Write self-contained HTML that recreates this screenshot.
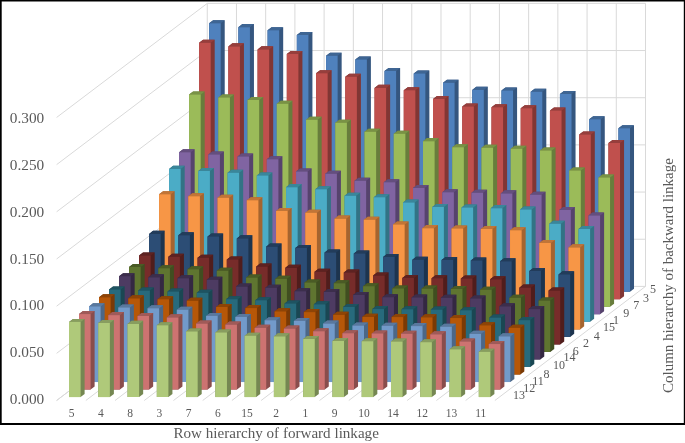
<!DOCTYPE html>
<html><head><meta charset="utf-8"><style>
html,body{margin:0;padding:0;background:#fff;width:685px;height:443px;overflow:hidden;}
svg{display:block;will-change:transform;}
</style></head><body><svg width="685" height="443" viewBox="0 0 685 443"><g stroke="#d9d9d9" stroke-width="1" fill="none"><line x1="56.60" y1="400.50" x2="207.25" y2="286.40"/><line x1="207.25" y1="286.40" x2="645.50" y2="286.40"/><line x1="56.60" y1="353.33" x2="207.25" y2="239.23"/><line x1="207.25" y1="239.23" x2="645.50" y2="239.23"/><line x1="56.60" y1="306.16" x2="207.25" y2="192.06"/><line x1="207.25" y1="192.06" x2="645.50" y2="192.06"/><line x1="56.60" y1="258.99" x2="207.25" y2="144.89"/><line x1="207.25" y1="144.89" x2="645.50" y2="144.89"/><line x1="56.60" y1="211.82" x2="207.25" y2="97.72"/><line x1="207.25" y1="97.72" x2="645.50" y2="97.72"/><line x1="56.60" y1="164.65" x2="207.25" y2="50.55"/><line x1="207.25" y1="50.55" x2="645.50" y2="50.55"/><line x1="56.60" y1="117.48" x2="207.25" y2="3.38"/><line x1="207.25" y1="3.38" x2="645.50" y2="3.38"/><line x1="56.60" y1="400.50" x2="207.25" y2="286.40"/><line x1="207.25" y1="286.40" x2="207.25" y2="3.38"/><line x1="85.82" y1="400.50" x2="236.47" y2="286.40"/><line x1="236.47" y1="286.40" x2="236.47" y2="3.38"/><line x1="115.03" y1="400.50" x2="265.68" y2="286.40"/><line x1="265.68" y1="286.40" x2="265.68" y2="3.38"/><line x1="144.25" y1="400.50" x2="294.90" y2="286.40"/><line x1="294.90" y1="286.40" x2="294.90" y2="3.38"/><line x1="173.47" y1="400.50" x2="324.12" y2="286.40"/><line x1="324.12" y1="286.40" x2="324.12" y2="3.38"/><line x1="202.68" y1="400.50" x2="353.33" y2="286.40"/><line x1="353.33" y1="286.40" x2="353.33" y2="3.38"/><line x1="231.90" y1="400.50" x2="382.55" y2="286.40"/><line x1="382.55" y1="286.40" x2="382.55" y2="3.38"/><line x1="261.12" y1="400.50" x2="411.77" y2="286.40"/><line x1="411.77" y1="286.40" x2="411.77" y2="3.38"/><line x1="290.34" y1="400.50" x2="440.99" y2="286.40"/><line x1="440.99" y1="286.40" x2="440.99" y2="3.38"/><line x1="319.55" y1="400.50" x2="470.20" y2="286.40"/><line x1="470.20" y1="286.40" x2="470.20" y2="3.38"/><line x1="348.77" y1="400.50" x2="499.42" y2="286.40"/><line x1="499.42" y1="286.40" x2="499.42" y2="3.38"/><line x1="377.99" y1="400.50" x2="528.64" y2="286.40"/><line x1="528.64" y1="286.40" x2="528.64" y2="3.38"/><line x1="407.20" y1="400.50" x2="557.85" y2="286.40"/><line x1="557.85" y1="286.40" x2="557.85" y2="3.38"/><line x1="436.42" y1="400.50" x2="587.07" y2="286.40"/><line x1="587.07" y1="286.40" x2="587.07" y2="3.38"/><line x1="465.64" y1="400.50" x2="616.29" y2="286.40"/><line x1="616.29" y1="286.40" x2="616.29" y2="3.38"/><line x1="494.86" y1="400.50" x2="645.50" y2="286.40"/><line x1="645.50" y1="286.40" x2="645.50" y2="3.38"/></g><g shape-rendering="auto"><polygon fill="#35567f" points="209.10,291.74 220.70,291.74 224.72,288.70 224.72,20.26 213.12,20.26 209.10,23.30"/><polygon fill="#3e6593" points="209.10,23.30 220.70,23.30 224.72,20.26 213.12,20.26"/><polygon fill="#4F81BD" points="209.10,291.74 220.70,291.74 220.70,23.30 209.10,23.30"/><polygon fill="#35567f" points="238.33,291.74 249.93,291.74 253.95,288.70 253.95,24.08 242.35,24.08 238.33,27.13"/><polygon fill="#3e6593" points="238.33,27.13 249.93,27.13 253.95,24.08 242.35,24.08"/><polygon fill="#4F81BD" points="238.33,291.74 249.93,291.74 249.93,27.13 238.33,27.13"/><polygon fill="#35567f" points="267.57,291.74 279.17,291.74 283.19,288.70 283.19,27.22 271.59,27.22 267.57,30.26"/><polygon fill="#3e6593" points="267.57,30.26 279.17,30.26 283.19,27.22 271.59,27.22"/><polygon fill="#4F81BD" points="267.57,291.74 279.17,291.74 279.17,30.26 267.57,30.26"/><polygon fill="#35567f" points="296.81,291.74 308.41,291.74 312.42,288.70 312.42,32.04 300.82,32.04 296.81,35.08"/><polygon fill="#3e6593" points="296.81,35.08 308.41,35.08 312.42,32.04 300.82,32.04"/><polygon fill="#4F81BD" points="296.81,291.74 308.41,291.74 308.41,35.08 296.81,35.08"/><polygon fill="#35567f" points="326.04,291.74 337.64,291.74 341.66,288.70 341.66,52.75 330.06,52.75 326.04,55.79"/><polygon fill="#3e6593" points="326.04,55.79 337.64,55.79 341.66,52.75 330.06,52.75"/><polygon fill="#4F81BD" points="326.04,291.74 337.64,291.74 337.64,55.79 326.04,55.79"/><polygon fill="#35567f" points="355.28,291.74 366.88,291.74 370.90,288.70 370.90,56.39 359.30,56.39 355.28,59.43"/><polygon fill="#3e6593" points="355.28,59.43 366.88,59.43 370.90,56.39 359.30,56.39"/><polygon fill="#4F81BD" points="355.28,291.74 366.88,291.74 366.88,59.43 355.28,59.43"/><polygon fill="#35567f" points="384.51,291.74 396.11,291.74 400.13,288.70 400.13,68.01 388.53,68.01 384.51,71.05"/><polygon fill="#3e6593" points="384.51,71.05 396.11,71.05 400.13,68.01 388.53,68.01"/><polygon fill="#4F81BD" points="384.51,291.74 396.11,291.74 396.11,71.05 384.51,71.05"/><polygon fill="#35567f" points="413.75,291.74 425.35,291.74 429.37,288.70 429.37,70.44 417.77,70.44 413.75,73.49"/><polygon fill="#3e6593" points="413.75,73.49 425.35,73.49 429.37,70.44 417.77,70.44"/><polygon fill="#4F81BD" points="413.75,291.74 425.35,291.74 425.35,73.49 413.75,73.49"/><polygon fill="#35567f" points="442.99,291.74 454.59,291.74 458.60,288.70 458.60,79.76 447.00,79.76 442.99,82.80"/><polygon fill="#3e6593" points="442.99,82.80 454.59,82.80 458.60,79.76 447.00,79.76"/><polygon fill="#4F81BD" points="442.99,291.74 454.59,291.74 454.59,82.80 442.99,82.80"/><polygon fill="#35567f" points="472.22,291.74 483.82,291.74 487.84,288.70 487.84,86.85 476.24,86.85 472.22,89.90"/><polygon fill="#3e6593" points="472.22,89.90 483.82,89.90 487.84,86.85 476.24,86.85"/><polygon fill="#4F81BD" points="472.22,291.74 483.82,291.74 483.82,89.90 472.22,89.90"/><polygon fill="#35567f" points="501.46,291.74 513.06,291.74 517.08,288.70 517.08,87.58 505.48,87.58 501.46,90.62"/><polygon fill="#3e6593" points="501.46,90.62 513.06,90.62 517.08,87.58 505.48,87.58"/><polygon fill="#4F81BD" points="501.46,291.74 513.06,291.74 513.06,90.62 501.46,90.62"/><polygon fill="#35567f" points="530.69,291.74 542.29,291.74 546.31,288.70 546.31,88.70 534.71,88.70 530.69,91.74"/><polygon fill="#3e6593" points="530.69,91.74 542.29,91.74 546.31,88.70 534.71,88.70"/><polygon fill="#4F81BD" points="530.69,291.74 542.29,291.74 542.29,91.74 530.69,91.74"/><polygon fill="#35567f" points="559.93,291.74 571.53,291.74 575.55,288.70 575.55,90.98 563.95,90.98 559.93,94.02"/><polygon fill="#3e6593" points="559.93,94.02 571.53,94.02 575.55,90.98 563.95,90.98"/><polygon fill="#4F81BD" points="559.93,291.74 571.53,291.74 571.53,94.02 559.93,94.02"/><polygon fill="#35567f" points="589.17,291.74 600.77,291.74 604.78,288.70 604.78,116.25 593.18,116.25 589.17,119.29"/><polygon fill="#3e6593" points="589.17,119.29 600.77,119.29 604.78,116.25 593.18,116.25"/><polygon fill="#4F81BD" points="589.17,291.74 600.77,291.74 600.77,119.29 589.17,119.29"/><polygon fill="#35567f" points="618.40,291.74 630.00,291.74 634.02,288.70 634.02,125.14 622.42,125.14 618.40,128.18"/><polygon fill="#3e6593" points="618.40,128.18 630.00,128.18 634.02,125.14 622.42,125.14"/><polygon fill="#4F81BD" points="618.40,291.74 630.00,291.74 630.00,128.18 618.40,128.18"/><polygon fill="#813634" points="199.09,299.27 210.69,299.27 214.71,296.23 214.71,39.69 203.11,39.69 199.09,42.73"/><polygon fill="#963e3c" points="199.09,42.73 210.69,42.73 214.71,39.69 203.11,39.69"/><polygon fill="#C0504D" points="199.09,299.27 210.69,299.27 210.69,42.73 199.09,42.73"/><polygon fill="#813634" points="228.33,299.27 239.93,299.27 243.95,296.23 243.95,43.35 232.35,43.35 228.33,46.39"/><polygon fill="#963e3c" points="228.33,46.39 239.93,46.39 243.95,43.35 232.35,43.35"/><polygon fill="#C0504D" points="228.33,299.27 239.93,299.27 239.93,46.39 228.33,46.39"/><polygon fill="#813634" points="257.57,299.27 269.17,299.27 273.19,296.23 273.19,46.34 261.59,46.34 257.57,49.38"/><polygon fill="#963e3c" points="257.57,49.38 269.17,49.38 273.19,46.34 261.59,46.34"/><polygon fill="#C0504D" points="257.57,299.27 269.17,299.27 269.17,49.38 257.57,49.38"/><polygon fill="#813634" points="286.81,299.27 298.41,299.27 302.42,296.23 302.42,50.94 290.82,50.94 286.81,53.99"/><polygon fill="#963e3c" points="286.81,53.99 298.41,53.99 302.42,50.94 290.82,50.94"/><polygon fill="#C0504D" points="286.81,299.27 298.41,299.27 298.41,53.99 286.81,53.99"/><polygon fill="#813634" points="316.05,299.27 327.65,299.27 331.66,296.23 331.66,70.26 320.06,70.26 316.05,73.31"/><polygon fill="#963e3c" points="316.05,73.31 327.65,73.31 331.66,70.26 320.06,70.26"/><polygon fill="#C0504D" points="316.05,299.27 327.65,299.27 327.65,73.31 316.05,73.31"/><polygon fill="#813634" points="345.28,299.27 356.88,299.27 360.90,296.23 360.90,73.74 349.30,73.74 345.28,76.79"/><polygon fill="#963e3c" points="345.28,76.79 356.88,76.79 360.90,73.74 349.30,73.74"/><polygon fill="#C0504D" points="345.28,299.27 356.88,299.27 356.88,76.79 345.28,76.79"/><polygon fill="#813634" points="374.52,299.27 386.12,299.27 390.14,296.23 390.14,84.85 378.54,84.85 374.52,87.89"/><polygon fill="#963e3c" points="374.52,87.89 386.12,87.89 390.14,84.85 378.54,84.85"/><polygon fill="#C0504D" points="374.52,299.27 386.12,299.27 386.12,87.89 374.52,87.89"/><polygon fill="#813634" points="403.76,299.27 415.36,299.27 419.38,296.23 419.38,87.18 407.78,87.18 403.76,90.22"/><polygon fill="#963e3c" points="403.76,90.22 415.36,90.22 419.38,87.18 407.78,87.18"/><polygon fill="#C0504D" points="403.76,299.27 415.36,299.27 415.36,90.22 403.76,90.22"/><polygon fill="#813634" points="433.00,299.27 444.60,299.27 448.62,296.23 448.62,96.08 437.02,96.08 433.00,99.12"/><polygon fill="#963e3c" points="433.00,99.12 444.60,99.12 448.62,96.08 437.02,96.08"/><polygon fill="#C0504D" points="433.00,299.27 444.60,299.27 444.60,99.12 433.00,99.12"/><polygon fill="#813634" points="462.24,299.27 473.84,299.27 477.85,296.23 477.85,103.46 466.25,103.46 462.24,106.50"/><polygon fill="#963e3c" points="462.24,106.50 473.84,106.50 477.85,103.46 466.25,103.46"/><polygon fill="#C0504D" points="462.24,299.27 473.84,299.27 473.84,106.50 462.24,106.50"/><polygon fill="#813634" points="491.48,299.27 503.08,299.27 507.09,296.23 507.09,104.15 495.49,104.15 491.48,107.19"/><polygon fill="#963e3c" points="491.48,107.19 503.08,107.19 507.09,104.15 495.49,104.15"/><polygon fill="#C0504D" points="491.48,299.27 503.08,299.27 503.08,107.19 491.48,107.19"/><polygon fill="#813634" points="520.71,299.27 532.31,299.27 536.33,296.23 536.33,105.23 524.73,105.23 520.71,108.27"/><polygon fill="#963e3c" points="520.71,108.27 532.31,108.27 536.33,105.23 524.73,105.23"/><polygon fill="#C0504D" points="520.71,299.27 532.31,299.27 532.31,108.27 520.71,108.27"/><polygon fill="#813634" points="549.95,299.27 561.55,299.27 565.57,296.23 565.57,107.40 553.97,107.40 549.95,110.44"/><polygon fill="#963e3c" points="549.95,110.44 561.55,110.44 565.57,107.40 553.97,107.40"/><polygon fill="#C0504D" points="549.95,299.27 561.55,299.27 561.55,110.44 549.95,110.44"/><polygon fill="#813634" points="579.19,299.27 590.79,299.27 594.81,296.23 594.81,131.55 583.21,131.55 579.19,134.60"/><polygon fill="#963e3c" points="579.19,134.60 590.79,134.60 594.81,131.55 583.21,131.55"/><polygon fill="#C0504D" points="579.19,299.27 590.79,299.27 590.79,134.60 579.19,134.60"/><polygon fill="#813634" points="608.43,299.27 620.03,299.27 624.05,296.23 624.05,140.05 612.45,140.05 608.43,143.09"/><polygon fill="#963e3c" points="608.43,143.09 620.03,143.09 624.05,140.05 612.45,140.05"/><polygon fill="#C0504D" points="608.43,299.27 620.03,299.27 620.03,143.09 608.43,143.09"/><polygon fill="#687d3c" points="189.08,306.80 200.68,306.80 204.70,303.76 204.70,91.45 193.10,91.45 189.08,94.50"/><polygon fill="#799245" points="189.08,94.50 200.68,94.50 204.70,91.45 193.10,91.45"/><polygon fill="#9BBB59" points="189.08,306.80 200.68,306.80 200.68,94.50 189.08,94.50"/><polygon fill="#687d3c" points="218.32,306.80 229.92,306.80 233.94,303.76 233.94,94.48 222.34,94.48 218.32,97.52"/><polygon fill="#799245" points="218.32,97.52 229.92,97.52 233.94,94.48 222.34,94.48"/><polygon fill="#9BBB59" points="218.32,306.80 229.92,306.80 229.92,97.52 218.32,97.52"/><polygon fill="#687d3c" points="247.57,306.80 259.17,306.80 263.18,303.76 263.18,96.96 251.58,96.96 247.57,100.00"/><polygon fill="#799245" points="247.57,100.00 259.17,100.00 263.18,96.96 251.58,96.96"/><polygon fill="#9BBB59" points="247.57,306.80 259.17,306.80 259.17,100.00 247.57,100.00"/><polygon fill="#687d3c" points="276.81,306.80 288.41,306.80 292.42,303.76 292.42,100.77 280.82,100.77 276.81,103.81"/><polygon fill="#799245" points="276.81,103.81 288.41,103.81 292.42,100.77 280.82,100.77"/><polygon fill="#9BBB59" points="276.81,306.80 288.41,306.80 288.41,103.81 276.81,103.81"/><polygon fill="#687d3c" points="306.05,306.80 317.65,306.80 321.67,303.76 321.67,116.75 310.07,116.75 306.05,119.79"/><polygon fill="#799245" points="306.05,119.79 317.65,119.79 321.67,116.75 310.07,116.75"/><polygon fill="#9BBB59" points="306.05,306.80 317.65,306.80 317.65,119.79 306.05,119.79"/><polygon fill="#687d3c" points="335.29,306.80 346.89,306.80 350.91,303.76 350.91,119.63 339.31,119.63 335.29,122.67"/><polygon fill="#799245" points="335.29,122.67 346.89,122.67 350.91,119.63 339.31,119.63"/><polygon fill="#9BBB59" points="335.29,306.80 346.89,306.80 346.89,122.67 335.29,122.67"/><polygon fill="#687d3c" points="364.53,306.80 376.13,306.80 380.15,303.76 380.15,128.82 368.55,128.82 364.53,131.86"/><polygon fill="#799245" points="364.53,131.86 376.13,131.86 380.15,128.82 368.55,128.82"/><polygon fill="#9BBB59" points="364.53,306.80 376.13,306.80 376.13,131.86 364.53,131.86"/><polygon fill="#687d3c" points="393.77,306.80 405.37,306.80 409.39,303.76 409.39,130.74 397.79,130.74 393.77,133.79"/><polygon fill="#799245" points="393.77,133.79 405.37,133.79 409.39,130.74 397.79,130.74"/><polygon fill="#9BBB59" points="393.77,306.80 405.37,306.80 405.37,133.79 393.77,133.79"/><polygon fill="#687d3c" points="423.01,306.80 434.61,306.80 438.63,303.76 438.63,138.11 427.03,138.11 423.01,141.15"/><polygon fill="#799245" points="423.01,141.15 434.61,141.15 438.63,138.11 427.03,138.11"/><polygon fill="#9BBB59" points="423.01,306.80 434.61,306.80 434.61,141.15 423.01,141.15"/><polygon fill="#687d3c" points="452.25,306.80 463.85,306.80 467.87,303.76 467.87,144.22 456.27,144.22 452.25,147.26"/><polygon fill="#799245" points="452.25,147.26 463.85,147.26 467.87,144.22 456.27,144.22"/><polygon fill="#9BBB59" points="452.25,306.80 463.85,306.80 463.85,147.26 452.25,147.26"/><polygon fill="#687d3c" points="481.49,306.80 493.09,306.80 497.11,303.76 497.11,144.79 485.51,144.79 481.49,147.83"/><polygon fill="#799245" points="481.49,147.83 493.09,147.83 497.11,144.79 485.51,144.79"/><polygon fill="#9BBB59" points="481.49,306.80 493.09,306.80 493.09,147.83 481.49,147.83"/><polygon fill="#687d3c" points="510.74,306.80 522.34,306.80 526.35,303.76 526.35,145.68 514.75,145.68 510.74,148.72"/><polygon fill="#799245" points="510.74,148.72 522.34,148.72 526.35,145.68 514.75,145.68"/><polygon fill="#9BBB59" points="510.74,306.80 522.34,306.80 522.34,148.72 510.74,148.72"/><polygon fill="#687d3c" points="539.98,306.80 551.58,306.80 555.59,303.76 555.59,147.48 543.99,147.48 539.98,150.52"/><polygon fill="#799245" points="539.98,150.52 551.58,150.52 555.59,147.48 543.99,147.48"/><polygon fill="#9BBB59" points="539.98,306.80 551.58,306.80 551.58,150.52 539.98,150.52"/><polygon fill="#687d3c" points="569.22,306.80 580.82,306.80 584.83,303.76 584.83,167.46 573.23,167.46 569.22,170.51"/><polygon fill="#799245" points="569.22,170.51 580.82,170.51 584.83,167.46 573.23,167.46"/><polygon fill="#9BBB59" points="569.22,306.80 580.82,306.80 580.82,170.51 569.22,170.51"/><polygon fill="#687d3c" points="598.46,306.80 610.06,306.80 614.08,303.76 614.08,174.49 602.48,174.49 598.46,177.53"/><polygon fill="#799245" points="598.46,177.53 610.06,177.53 614.08,174.49 602.48,174.49"/><polygon fill="#9BBB59" points="598.46,306.80 610.06,306.80 610.06,177.53 598.46,177.53"/><polygon fill="#56436d" points="179.08,314.32 190.68,314.32 194.69,311.28 194.69,149.18 183.09,149.18 179.08,152.23"/><polygon fill="#644e7e" points="179.08,152.23 190.68,152.23 194.69,149.18 183.09,149.18"/><polygon fill="#8064A2" points="179.08,314.32 190.68,314.32 190.68,152.23 179.08,152.23"/><polygon fill="#56436d" points="208.32,314.32 219.92,314.32 223.94,311.28 223.94,151.50 212.34,151.50 208.32,154.55"/><polygon fill="#644e7e" points="208.32,154.55 219.92,154.55 223.94,151.50 212.34,151.50"/><polygon fill="#8064A2" points="208.32,314.32 219.92,314.32 219.92,154.55 208.32,154.55"/><polygon fill="#56436d" points="237.56,314.32 249.16,314.32 253.18,311.28 253.18,153.40 241.58,153.40 237.56,156.45"/><polygon fill="#644e7e" points="237.56,156.45 249.16,156.45 253.18,153.40 241.58,153.40"/><polygon fill="#8064A2" points="237.56,314.32 249.16,314.32 249.16,156.45 237.56,156.45"/><polygon fill="#56436d" points="266.81,314.32 278.41,314.32 282.42,311.28 282.42,156.32 270.82,156.32 266.81,159.37"/><polygon fill="#644e7e" points="266.81,159.37 278.41,159.37 282.42,156.32 270.82,156.32"/><polygon fill="#8064A2" points="266.81,314.32 278.41,314.32 278.41,159.37 266.81,159.37"/><polygon fill="#56436d" points="296.05,314.32 307.65,314.32 311.67,311.28 311.67,168.57 300.07,168.57 296.05,171.61"/><polygon fill="#644e7e" points="296.05,171.61 307.65,171.61 311.67,168.57 300.07,168.57"/><polygon fill="#8064A2" points="296.05,314.32 307.65,314.32 307.65,171.61 296.05,171.61"/><polygon fill="#56436d" points="325.29,314.32 336.89,314.32 340.91,311.28 340.91,170.78 329.31,170.78 325.29,173.82"/><polygon fill="#644e7e" points="325.29,173.82 336.89,173.82 340.91,170.78 329.31,170.78"/><polygon fill="#8064A2" points="325.29,314.32 336.89,314.32 336.89,173.82 325.29,173.82"/><polygon fill="#56436d" points="354.54,314.32 366.14,314.32 370.16,311.28 370.16,177.82 358.56,177.82 354.54,180.86"/><polygon fill="#644e7e" points="354.54,180.86 366.14,180.86 370.16,177.82 358.56,177.82"/><polygon fill="#8064A2" points="354.54,314.32 366.14,314.32 366.14,180.86 354.54,180.86"/><polygon fill="#56436d" points="383.78,314.32 395.38,314.32 399.40,311.28 399.40,179.30 387.80,179.30 383.78,182.34"/><polygon fill="#644e7e" points="383.78,182.34 395.38,182.34 399.40,179.30 387.80,179.30"/><polygon fill="#8064A2" points="383.78,314.32 395.38,314.32 395.38,182.34 383.78,182.34"/><polygon fill="#56436d" points="413.02,314.32 424.62,314.32 428.64,311.28 428.64,184.94 417.04,184.94 413.02,187.99"/><polygon fill="#644e7e" points="413.02,187.99 424.62,187.99 428.64,184.94 417.04,184.94"/><polygon fill="#8064A2" points="413.02,314.32 424.62,314.32 424.62,187.99 413.02,187.99"/><polygon fill="#56436d" points="442.27,314.32 453.87,314.32 457.89,311.28 457.89,189.24 446.29,189.24 442.27,192.28"/><polygon fill="#644e7e" points="442.27,192.28 453.87,192.28 457.89,189.24 446.29,189.24"/><polygon fill="#8064A2" points="442.27,314.32 453.87,314.32 453.87,192.28 442.27,192.28"/><polygon fill="#56436d" points="471.51,314.32 483.11,314.32 487.13,311.28 487.13,189.68 475.53,189.68 471.51,192.72"/><polygon fill="#644e7e" points="471.51,192.72 483.11,192.72 487.13,189.68 475.53,189.68"/><polygon fill="#8064A2" points="471.51,314.32 483.11,314.32 483.11,192.72 471.51,192.72"/><polygon fill="#56436d" points="500.76,314.32 512.36,314.32 516.37,311.28 516.37,190.36 504.77,190.36 500.76,193.40"/><polygon fill="#644e7e" points="500.76,193.40 512.36,193.40 516.37,190.36 504.77,190.36"/><polygon fill="#8064A2" points="500.76,314.32 512.36,314.32 512.36,193.40 500.76,193.40"/><polygon fill="#56436d" points="530.00,314.32 541.60,314.32 545.62,311.28 545.62,191.74 534.02,191.74 530.00,194.78"/><polygon fill="#644e7e" points="530.00,194.78 541.60,194.78 545.62,191.74 534.02,191.74"/><polygon fill="#8064A2" points="530.00,314.32 541.60,314.32 541.60,194.78 530.00,194.78"/><polygon fill="#56436d" points="559.24,314.32 570.84,314.32 574.86,311.28 574.86,207.06 563.26,207.06 559.24,210.10"/><polygon fill="#644e7e" points="559.24,210.10 570.84,210.10 574.86,207.06 563.26,207.06"/><polygon fill="#8064A2" points="559.24,314.32 570.84,314.32 570.84,210.10 559.24,210.10"/><polygon fill="#56436d" points="588.49,314.32 600.09,314.32 604.10,311.28 604.10,212.44 592.50,212.44 588.49,215.49"/><polygon fill="#644e7e" points="588.49,215.49 600.09,215.49 604.10,212.44 592.50,212.44"/><polygon fill="#8064A2" points="588.49,314.32 600.09,314.32 600.09,215.49 588.49,215.49"/><polygon fill="#327385" points="169.07,321.85 180.67,321.85 184.69,318.81 184.69,165.86 173.09,165.86 169.07,168.90"/><polygon fill="#3a869a" points="169.07,168.90 180.67,168.90 184.69,165.86 173.09,165.86"/><polygon fill="#4BACC6" points="169.07,321.85 180.67,321.85 180.67,168.90 169.07,168.90"/><polygon fill="#327385" points="198.32,321.85 209.92,321.85 213.93,318.81 213.93,168.04 202.33,168.04 198.32,171.08"/><polygon fill="#3a869a" points="198.32,171.08 209.92,171.08 213.93,168.04 202.33,168.04"/><polygon fill="#4BACC6" points="198.32,321.85 209.92,321.85 209.92,171.08 198.32,171.08"/><polygon fill="#327385" points="227.56,321.85 239.16,321.85 243.18,318.81 243.18,169.83 231.58,169.83 227.56,172.87"/><polygon fill="#3a869a" points="227.56,172.87 239.16,172.87 243.18,169.83 231.58,169.83"/><polygon fill="#4BACC6" points="227.56,321.85 239.16,321.85 239.16,172.87 227.56,172.87"/><polygon fill="#327385" points="256.81,321.85 268.41,321.85 272.43,318.81 272.43,172.58 260.83,172.58 256.81,175.62"/><polygon fill="#3a869a" points="256.81,175.62 268.41,175.62 272.43,172.58 260.83,172.58"/><polygon fill="#4BACC6" points="256.81,321.85 268.41,321.85 268.41,175.62 256.81,175.62"/><polygon fill="#327385" points="286.05,321.85 297.65,321.85 301.67,318.81 301.67,184.10 290.07,184.10 286.05,187.14"/><polygon fill="#3a869a" points="286.05,187.14 297.65,187.14 301.67,184.10 290.07,184.10"/><polygon fill="#4BACC6" points="286.05,321.85 297.65,321.85 297.65,187.14 286.05,187.14"/><polygon fill="#327385" points="315.30,321.85 326.90,321.85 330.92,318.81 330.92,186.18 319.32,186.18 315.30,189.22"/><polygon fill="#3a869a" points="315.30,189.22 326.90,189.22 330.92,186.18 319.32,186.18"/><polygon fill="#4BACC6" points="315.30,321.85 326.90,321.85 326.90,189.22 315.30,189.22"/><polygon fill="#327385" points="344.55,321.85 356.15,321.85 360.16,318.81 360.16,192.80 348.56,192.80 344.55,195.85"/><polygon fill="#3a869a" points="344.55,195.85 356.15,195.85 360.16,192.80 348.56,192.80"/><polygon fill="#4BACC6" points="344.55,321.85 356.15,321.85 356.15,195.85 344.55,195.85"/><polygon fill="#327385" points="373.79,321.85 385.39,321.85 389.41,318.81 389.41,194.19 377.81,194.19 373.79,197.23"/><polygon fill="#3a869a" points="373.79,197.23 385.39,197.23 389.41,194.19 377.81,194.19"/><polygon fill="#4BACC6" points="373.79,321.85 385.39,321.85 385.39,197.23 373.79,197.23"/><polygon fill="#327385" points="403.04,321.85 414.64,321.85 418.66,318.81 418.66,199.50 407.06,199.50 403.04,202.55"/><polygon fill="#3a869a" points="403.04,202.55 414.64,202.55 418.66,199.50 407.06,199.50"/><polygon fill="#4BACC6" points="403.04,321.85 414.64,321.85 414.64,202.55 403.04,202.55"/><polygon fill="#327385" points="432.28,321.85 443.88,321.85 447.90,318.81 447.90,204.05 436.30,204.05 432.28,207.09"/><polygon fill="#3a869a" points="432.28,207.09 443.88,207.09 447.90,204.05 436.30,204.05"/><polygon fill="#4BACC6" points="432.28,321.85 443.88,321.85 443.88,207.09 432.28,207.09"/><polygon fill="#327385" points="461.53,321.85 473.13,321.85 477.15,318.81 477.15,204.46 465.55,204.46 461.53,207.50"/><polygon fill="#3a869a" points="461.53,207.50 473.13,207.50 477.15,204.46 465.55,204.46"/><polygon fill="#4BACC6" points="461.53,321.85 473.13,321.85 473.13,207.50 461.53,207.50"/><polygon fill="#327385" points="490.78,321.85 502.38,321.85 506.39,318.81 506.39,205.10 494.79,205.10 490.78,208.15"/><polygon fill="#3a869a" points="490.78,208.15 502.38,208.15 506.39,205.10 494.79,205.10"/><polygon fill="#4BACC6" points="490.78,321.85 502.38,321.85 502.38,208.15 490.78,208.15"/><polygon fill="#327385" points="520.02,321.85 531.62,321.85 535.64,318.81 535.64,206.40 524.04,206.40 520.02,209.44"/><polygon fill="#3a869a" points="520.02,209.44 531.62,209.44 535.64,206.40 524.04,206.40"/><polygon fill="#4BACC6" points="520.02,321.85 531.62,321.85 531.62,209.44 520.02,209.44"/><polygon fill="#327385" points="549.27,321.85 560.87,321.85 564.89,318.81 564.89,220.81 553.29,220.81 549.27,223.85"/><polygon fill="#3a869a" points="549.27,223.85 560.87,223.85 564.89,220.81 553.29,220.81"/><polygon fill="#4BACC6" points="549.27,321.85 560.87,321.85 560.87,223.85 549.27,223.85"/><polygon fill="#327385" points="578.51,321.85 590.11,321.85 594.13,318.81 594.13,225.88 582.53,225.88 578.51,228.92"/><polygon fill="#3a869a" points="578.51,228.92 590.11,228.92 594.13,225.88 582.53,225.88"/><polygon fill="#4BACC6" points="578.51,321.85 590.11,321.85 590.11,228.92 578.51,228.92"/><polygon fill="#a5642f" points="159.06,329.38 170.66,329.38 174.68,326.34 174.68,191.31 163.08,191.31 159.06,194.35"/><polygon fill="#c17537" points="159.06,194.35 170.66,194.35 174.68,191.31 163.08,191.31"/><polygon fill="#F79646" points="159.06,329.38 170.66,329.38 170.66,194.35 159.06,194.35"/><polygon fill="#a5642f" points="188.31,329.38 199.91,329.38 203.93,326.34 203.93,193.23 192.33,193.23 188.31,196.28"/><polygon fill="#c17537" points="188.31,196.28 199.91,196.28 203.93,193.23 192.33,193.23"/><polygon fill="#F79646" points="188.31,329.38 199.91,329.38 199.91,196.28 188.31,196.28"/><polygon fill="#a5642f" points="217.56,329.38 229.16,329.38 233.18,326.34 233.18,194.81 221.58,194.81 217.56,197.85"/><polygon fill="#c17537" points="217.56,197.85 229.16,197.85 233.18,194.81 221.58,194.81"/><polygon fill="#F79646" points="217.56,329.38 229.16,329.38 229.16,197.85 217.56,197.85"/><polygon fill="#a5642f" points="246.81,329.38 258.41,329.38 262.43,326.34 262.43,197.24 250.83,197.24 246.81,200.28"/><polygon fill="#c17537" points="246.81,200.28 258.41,200.28 262.43,197.24 250.83,197.24"/><polygon fill="#F79646" points="246.81,329.38 258.41,329.38 258.41,200.28 246.81,200.28"/><polygon fill="#a5642f" points="276.06,329.38 287.66,329.38 291.67,326.34 291.67,207.91 280.07,207.91 276.06,210.96"/><polygon fill="#c17537" points="276.06,210.96 287.66,210.96 291.67,207.91 280.07,207.91"/><polygon fill="#F79646" points="276.06,329.38 287.66,329.38 287.66,210.96 276.06,210.96"/><polygon fill="#a5642f" points="305.31,329.38 316.91,329.38 320.92,326.34 320.92,209.75 309.32,209.75 305.31,212.79"/><polygon fill="#c17537" points="305.31,212.79 316.91,212.79 320.92,209.75 309.32,209.75"/><polygon fill="#F79646" points="305.31,329.38 316.91,329.38 316.91,212.79 305.31,212.79"/><polygon fill="#a5642f" points="334.55,329.38 346.15,329.38 350.17,326.34 350.17,215.60 338.57,215.60 334.55,218.64"/><polygon fill="#c17537" points="334.55,218.64 346.15,218.64 350.17,215.60 338.57,215.60"/><polygon fill="#F79646" points="334.55,329.38 346.15,329.38 346.15,218.64 334.55,218.64"/><polygon fill="#a5642f" points="363.80,329.38 375.40,329.38 379.42,326.34 379.42,216.82 367.82,216.82 363.80,219.87"/><polygon fill="#c17537" points="363.80,219.87 375.40,219.87 379.42,216.82 367.82,216.82"/><polygon fill="#F79646" points="363.80,329.38 375.40,329.38 375.40,219.87 363.80,219.87"/><polygon fill="#a5642f" points="393.05,329.38 404.65,329.38 408.67,326.34 408.67,221.51 397.07,221.51 393.05,224.56"/><polygon fill="#c17537" points="393.05,224.56 404.65,224.56 408.67,221.51 397.07,221.51"/><polygon fill="#F79646" points="393.05,329.38 404.65,329.38 404.65,224.56 393.05,224.56"/><polygon fill="#a5642f" points="422.30,329.38 433.90,329.38 437.92,326.34 437.92,225.09 426.32,225.09 422.30,228.13"/><polygon fill="#c17537" points="422.30,228.13 433.90,228.13 437.92,225.09 426.32,225.09"/><polygon fill="#F79646" points="422.30,329.38 433.90,329.38 433.90,228.13 422.30,228.13"/><polygon fill="#a5642f" points="451.55,329.38 463.15,329.38 467.17,326.34 467.17,225.45 455.57,225.45 451.55,228.49"/><polygon fill="#c17537" points="451.55,228.49 463.15,228.49 467.17,225.45 455.57,225.45"/><polygon fill="#F79646" points="451.55,329.38 463.15,329.38 463.15,228.49 451.55,228.49"/><polygon fill="#a5642f" points="480.80,329.38 492.40,329.38 496.41,326.34 496.41,226.02 484.81,226.02 480.80,229.06"/><polygon fill="#c17537" points="480.80,229.06 492.40,229.06 496.41,226.02 484.81,226.02"/><polygon fill="#F79646" points="480.80,329.38 492.40,329.38 492.40,229.06 480.80,229.06"/><polygon fill="#a5642f" points="510.04,329.38 521.64,329.38 525.66,326.34 525.66,227.16 514.06,227.16 510.04,230.20"/><polygon fill="#c17537" points="510.04,230.20 521.64,230.20 525.66,227.16 514.06,227.16"/><polygon fill="#F79646" points="510.04,329.38 521.64,329.38 521.64,230.20 510.04,230.20"/><polygon fill="#a5642f" points="539.29,329.38 550.89,329.38 554.91,326.34 554.91,239.89 543.31,239.89 539.29,242.93"/><polygon fill="#c17537" points="539.29,242.93 550.89,242.93 554.91,239.89 543.31,239.89"/><polygon fill="#F79646" points="539.29,329.38 550.89,329.38 550.89,242.93 539.29,242.93"/><polygon fill="#a5642f" points="568.54,329.38 580.14,329.38 584.16,326.34 584.16,244.36 572.56,244.36 568.54,247.40"/><polygon fill="#c17537" points="568.54,247.40 580.14,247.40 584.16,244.36 572.56,244.36"/><polygon fill="#F79646" points="568.54,329.38 580.14,329.38 580.14,247.40 568.54,247.40"/><polygon fill="#1d344e" points="149.06,336.90 160.66,336.90 164.67,333.86 164.67,230.84 153.07,230.84 149.06,233.88"/><polygon fill="#223c5b" points="149.06,233.88 160.66,233.88 164.67,230.84 153.07,230.84"/><polygon fill="#2C4D75" points="149.06,336.90 160.66,336.90 160.66,233.88 149.06,233.88"/><polygon fill="#1d344e" points="178.31,336.90 189.91,336.90 193.92,333.86 193.92,232.31 182.32,232.31 178.31,235.35"/><polygon fill="#223c5b" points="178.31,235.35 189.91,235.35 193.92,232.31 182.32,232.31"/><polygon fill="#2C4D75" points="178.31,336.90 189.91,336.90 189.91,235.35 178.31,235.35"/><polygon fill="#1d344e" points="207.56,336.90 219.16,336.90 223.18,333.86 223.18,233.51 211.58,233.51 207.56,236.55"/><polygon fill="#223c5b" points="207.56,236.55 219.16,236.55 223.18,233.51 211.58,233.51"/><polygon fill="#2C4D75" points="207.56,336.90 219.16,336.90 219.16,236.55 207.56,236.55"/><polygon fill="#1d344e" points="236.81,336.90 248.41,336.90 252.43,333.86 252.43,235.36 240.83,235.36 236.81,238.40"/><polygon fill="#223c5b" points="236.81,238.40 248.41,238.40 252.43,235.36 240.83,235.36"/><polygon fill="#2C4D75" points="236.81,336.90 248.41,336.90 248.41,238.40 236.81,238.40"/><polygon fill="#1d344e" points="266.06,336.90 277.66,336.90 281.68,333.86 281.68,243.61 270.08,243.61 266.06,246.65"/><polygon fill="#223c5b" points="266.06,246.65 277.66,246.65 281.68,243.61 270.08,243.61"/><polygon fill="#2C4D75" points="266.06,336.90 277.66,336.90 277.66,246.65 266.06,246.65"/><polygon fill="#1d344e" points="295.31,336.90 306.91,336.90 310.93,333.86 310.93,245.00 299.33,245.00 295.31,248.05"/><polygon fill="#223c5b" points="295.31,248.05 306.91,248.05 310.93,245.00 299.33,245.00"/><polygon fill="#2C4D75" points="295.31,336.90 306.91,336.90 306.91,248.05 295.31,248.05"/><polygon fill="#1d344e" points="324.56,336.90 336.16,336.90 340.18,333.86 340.18,249.46 328.58,249.46 324.56,252.50"/><polygon fill="#223c5b" points="324.56,252.50 336.16,252.50 340.18,249.46 328.58,249.46"/><polygon fill="#2C4D75" points="324.56,336.90 336.16,336.90 336.16,252.50 324.56,252.50"/><polygon fill="#1d344e" points="353.81,336.90 365.41,336.90 369.43,333.86 369.43,250.39 357.83,250.39 353.81,253.43"/><polygon fill="#223c5b" points="353.81,253.43 365.41,253.43 369.43,250.39 357.83,250.39"/><polygon fill="#2C4D75" points="353.81,336.90 365.41,336.90 365.41,253.43 353.81,253.43"/><polygon fill="#1d344e" points="383.06,336.90 394.66,336.90 398.68,333.86 398.68,253.96 387.08,253.96 383.06,257.01"/><polygon fill="#223c5b" points="383.06,257.01 394.66,257.01 398.68,253.96 387.08,253.96"/><polygon fill="#2C4D75" points="383.06,336.90 394.66,336.90 394.66,257.01 383.06,257.01"/><polygon fill="#1d344e" points="412.31,336.90 423.92,336.90 427.93,333.86 427.93,256.68 416.33,256.68 412.31,259.73"/><polygon fill="#223c5b" points="412.31,259.73 423.92,259.73 427.93,256.68 416.33,256.68"/><polygon fill="#2C4D75" points="412.31,336.90 423.92,336.90 423.92,259.73 412.31,259.73"/><polygon fill="#1d344e" points="441.57,336.90 453.17,336.90 457.18,333.86 457.18,256.96 445.58,256.96 441.57,260.00"/><polygon fill="#223c5b" points="441.57,260.00 453.17,260.00 457.18,256.96 445.58,256.96"/><polygon fill="#2C4D75" points="441.57,336.90 453.17,336.90 453.17,260.00 441.57,260.00"/><polygon fill="#1d344e" points="470.82,336.90 482.42,336.90 486.43,333.86 486.43,257.39 474.83,257.39 470.82,260.43"/><polygon fill="#223c5b" points="470.82,260.43 482.42,260.43 486.43,257.39 474.83,257.39"/><polygon fill="#2C4D75" points="470.82,336.90 482.42,336.90 482.42,260.43 470.82,260.43"/><polygon fill="#1d344e" points="500.07,336.90 511.67,336.90 515.69,333.86 515.69,258.26 504.09,258.26 500.07,261.31"/><polygon fill="#223c5b" points="500.07,261.31 511.67,261.31 515.69,258.26 504.09,258.26"/><polygon fill="#2C4D75" points="500.07,336.90 511.67,336.90 511.67,261.31 500.07,261.31"/><polygon fill="#1d344e" points="529.32,336.90 540.92,336.90 544.94,333.86 544.94,267.95 533.34,267.95 529.32,271.00"/><polygon fill="#223c5b" points="529.32,271.00 540.92,271.00 544.94,267.95 533.34,267.95"/><polygon fill="#2C4D75" points="529.32,336.90 540.92,336.90 540.92,271.00 529.32,271.00"/><polygon fill="#1d344e" points="558.57,336.90 570.17,336.90 574.19,333.86 574.19,271.36 562.59,271.36 558.57,274.41"/><polygon fill="#223c5b" points="558.57,274.41 570.17,274.41 574.19,271.36 562.59,271.36"/><polygon fill="#2C4D75" points="558.57,336.90 570.17,336.90 570.17,274.41 558.57,274.41"/><polygon fill="#501d1c" points="139.05,344.43 150.65,344.43 154.67,341.39 154.67,252.53 143.07,252.53 139.05,255.57"/><polygon fill="#5d2221" points="139.05,255.57 150.65,255.57 154.67,252.53 143.07,252.53"/><polygon fill="#772C2A" points="139.05,344.43 150.65,344.43 150.65,255.57 139.05,255.57"/><polygon fill="#501d1c" points="168.30,344.43 179.90,344.43 183.92,341.39 183.92,253.79 172.32,253.79 168.30,256.84"/><polygon fill="#5d2221" points="168.30,256.84 179.90,256.84 183.92,253.79 172.32,253.79"/><polygon fill="#772C2A" points="168.30,344.43 179.90,344.43 179.90,256.84 168.30,256.84"/><polygon fill="#501d1c" points="197.56,344.43 209.16,344.43 213.17,341.39 213.17,254.83 201.57,254.83 197.56,257.87"/><polygon fill="#5d2221" points="197.56,257.87 209.16,257.87 213.17,254.83 201.57,254.83"/><polygon fill="#772C2A" points="197.56,344.43 209.16,344.43 209.16,257.87 197.56,257.87"/><polygon fill="#501d1c" points="226.81,344.43 238.41,344.43 242.43,341.39 242.43,256.42 230.83,256.42 226.81,259.47"/><polygon fill="#5d2221" points="226.81,259.47 238.41,259.47 242.43,256.42 230.83,256.42"/><polygon fill="#772C2A" points="226.81,344.43 238.41,344.43 238.41,259.47 226.81,259.47"/><polygon fill="#501d1c" points="256.06,344.43 267.66,344.43 271.68,341.39 271.68,263.61 260.08,263.61 256.06,266.65"/><polygon fill="#5d2221" points="256.06,266.65 267.66,266.65 271.68,263.61 260.08,263.61"/><polygon fill="#772C2A" points="256.06,344.43 267.66,344.43 267.66,266.65 256.06,266.65"/><polygon fill="#501d1c" points="285.32,344.43 296.92,344.43 300.93,341.39 300.93,264.81 289.33,264.81 285.32,267.86"/><polygon fill="#5d2221" points="285.32,267.86 296.92,267.86 300.93,264.81 289.33,264.81"/><polygon fill="#772C2A" points="285.32,344.43 296.92,344.43 296.92,267.86 285.32,267.86"/><polygon fill="#501d1c" points="314.57,344.43 326.17,344.43 330.19,341.39 330.19,268.66 318.59,268.66 314.57,271.70"/><polygon fill="#5d2221" points="314.57,271.70 326.17,271.70 330.19,268.66 318.59,268.66"/><polygon fill="#772C2A" points="314.57,344.43 326.17,344.43 326.17,271.70 314.57,271.70"/><polygon fill="#501d1c" points="343.82,344.43 355.42,344.43 359.44,341.39 359.44,269.46 347.84,269.46 343.82,272.50"/><polygon fill="#5d2221" points="343.82,272.50 355.42,272.50 359.44,269.46 347.84,269.46"/><polygon fill="#772C2A" points="343.82,344.43 355.42,344.43 355.42,272.50 343.82,272.50"/><polygon fill="#501d1c" points="373.08,344.43 384.68,344.43 388.69,341.39 388.69,272.54 377.09,272.54 373.08,275.59"/><polygon fill="#5d2221" points="373.08,275.59 384.68,275.59 388.69,272.54 377.09,272.54"/><polygon fill="#772C2A" points="373.08,344.43 384.68,344.43 384.68,275.59 373.08,275.59"/><polygon fill="#501d1c" points="402.33,344.43 413.93,344.43 417.95,341.39 417.95,274.89 406.35,274.89 402.33,277.93"/><polygon fill="#5d2221" points="402.33,277.93 413.93,277.93 417.95,274.89 406.35,274.89"/><polygon fill="#772C2A" points="402.33,344.43 413.93,344.43 413.93,277.93 402.33,277.93"/><polygon fill="#501d1c" points="431.58,344.43 443.18,344.43 447.20,341.39 447.20,275.13 435.60,275.13 431.58,278.17"/><polygon fill="#5d2221" points="431.58,278.17 443.18,278.17 447.20,275.13 435.60,275.13"/><polygon fill="#772C2A" points="431.58,344.43 443.18,344.43 443.18,278.17 431.58,278.17"/><polygon fill="#501d1c" points="460.84,344.43 472.44,344.43 476.45,341.39 476.45,275.50 464.85,275.50 460.84,278.54"/><polygon fill="#5d2221" points="460.84,278.54 472.44,278.54 476.45,275.50 464.85,275.50"/><polygon fill="#772C2A" points="460.84,344.43 472.44,344.43 472.44,278.54 460.84,278.54"/><polygon fill="#501d1c" points="490.09,344.43 501.69,344.43 505.71,341.39 505.71,276.25 494.11,276.25 490.09,279.30"/><polygon fill="#5d2221" points="490.09,279.30 501.69,279.30 505.71,276.25 494.11,276.25"/><polygon fill="#772C2A" points="490.09,344.43 501.69,344.43 501.69,279.30 490.09,279.30"/><polygon fill="#501d1c" points="519.34,344.43 530.94,344.43 534.96,341.39 534.96,284.61 523.36,284.61 519.34,287.65"/><polygon fill="#5d2221" points="519.34,287.65 530.94,287.65 534.96,284.61 523.36,284.61"/><polygon fill="#772C2A" points="519.34,344.43 530.94,344.43 530.94,287.65 519.34,287.65"/><polygon fill="#501d1c" points="548.60,344.43 560.20,344.43 564.22,341.39 564.22,287.55 552.62,287.55 548.60,290.59"/><polygon fill="#5d2221" points="548.60,290.59 560.20,290.59 564.22,287.55 552.62,287.55"/><polygon fill="#772C2A" points="548.60,344.43 560.20,344.43 560.20,290.59 548.60,290.59"/><polygon fill="#404e20" points="129.04,351.96 140.64,351.96 144.66,348.92 144.66,263.97 133.06,263.97 129.04,267.01"/><polygon fill="#4a5b25" points="129.04,267.01 140.64,267.01 144.66,263.97 133.06,263.97"/><polygon fill="#5F7530" points="129.04,351.96 140.64,351.96 140.64,267.01 129.04,267.01"/><polygon fill="#404e20" points="158.30,351.96 169.90,351.96 173.92,348.92 173.92,265.18 162.32,265.18 158.30,268.22"/><polygon fill="#4a5b25" points="158.30,268.22 169.90,268.22 173.92,265.18 162.32,265.18"/><polygon fill="#5F7530" points="158.30,351.96 169.90,351.96 169.90,268.22 158.30,268.22"/><polygon fill="#404e20" points="187.55,351.96 199.15,351.96 203.17,348.92 203.17,266.17 191.57,266.17 187.55,269.21"/><polygon fill="#4a5b25" points="187.55,269.21 199.15,269.21 203.17,266.17 191.57,266.17"/><polygon fill="#5F7530" points="187.55,351.96 199.15,351.96 199.15,269.21 187.55,269.21"/><polygon fill="#404e20" points="216.81,351.96 228.41,351.96 232.43,348.92 232.43,267.69 220.83,267.69 216.81,270.74"/><polygon fill="#4a5b25" points="216.81,270.74 228.41,270.74 232.43,267.69 220.83,267.69"/><polygon fill="#5F7530" points="216.81,351.96 228.41,351.96 228.41,270.74 216.81,270.74"/><polygon fill="#404e20" points="246.07,351.96 257.67,351.96 261.68,348.92 261.68,274.59 250.08,274.59 246.07,277.63"/><polygon fill="#4a5b25" points="246.07,277.63 257.67,277.63 261.68,274.59 250.08,274.59"/><polygon fill="#5F7530" points="246.07,351.96 257.67,351.96 257.67,277.63 246.07,277.63"/><polygon fill="#404e20" points="275.32,351.96 286.92,351.96 290.94,348.92 290.94,275.74 279.34,275.74 275.32,278.78"/><polygon fill="#4a5b25" points="275.32,278.78 286.92,278.78 290.94,275.74 279.34,275.74"/><polygon fill="#5F7530" points="275.32,351.96 286.92,351.96 286.92,278.78 275.32,278.78"/><polygon fill="#404e20" points="304.58,351.96 316.18,351.96 320.20,348.92 320.20,279.42 308.60,279.42 304.58,282.46"/><polygon fill="#4a5b25" points="304.58,282.46 316.18,282.46 320.20,279.42 308.60,279.42"/><polygon fill="#5F7530" points="304.58,351.96 316.18,351.96 316.18,282.46 304.58,282.46"/><polygon fill="#404e20" points="333.83,351.96 345.43,351.96 349.45,348.92 349.45,280.19 337.85,280.19 333.83,283.23"/><polygon fill="#4a5b25" points="333.83,283.23 345.43,283.23 349.45,280.19 337.85,280.19"/><polygon fill="#5F7530" points="333.83,351.96 345.43,351.96 345.43,283.23 333.83,283.23"/><polygon fill="#404e20" points="363.09,351.96 374.69,351.96 378.71,348.92 378.71,283.13 367.11,283.13 363.09,286.18"/><polygon fill="#4a5b25" points="363.09,286.18 374.69,286.18 378.71,283.13 367.11,283.13"/><polygon fill="#5F7530" points="363.09,351.96 374.69,351.96 374.69,286.18 363.09,286.18"/><polygon fill="#404e20" points="392.35,351.96 403.95,351.96 407.96,348.92 407.96,285.38 396.36,285.38 392.35,288.42"/><polygon fill="#4a5b25" points="392.35,288.42 403.95,288.42 407.96,285.38 396.36,285.38"/><polygon fill="#5F7530" points="392.35,351.96 403.95,351.96 403.95,288.42 392.35,288.42"/><polygon fill="#404e20" points="421.60,351.96 433.20,351.96 437.22,348.92 437.22,285.61 425.62,285.61 421.60,288.65"/><polygon fill="#4a5b25" points="421.60,288.65 433.20,288.65 437.22,285.61 425.62,285.61"/><polygon fill="#5F7530" points="421.60,351.96 433.20,351.96 433.20,288.65 421.60,288.65"/><polygon fill="#404e20" points="450.86,351.96 462.46,351.96 466.48,348.92 466.48,285.96 454.88,285.96 450.86,289.01"/><polygon fill="#4a5b25" points="450.86,289.01 462.46,289.01 466.48,285.96 454.88,285.96"/><polygon fill="#5F7530" points="450.86,351.96 462.46,351.96 462.46,289.01 450.86,289.01"/><polygon fill="#404e20" points="480.11,351.96 491.71,351.96 495.73,348.92 495.73,286.68 484.13,286.68 480.11,289.73"/><polygon fill="#4a5b25" points="480.11,289.73 491.71,289.73 495.73,286.68 484.13,286.68"/><polygon fill="#5F7530" points="480.11,351.96 491.71,351.96 491.71,289.73 480.11,289.73"/><polygon fill="#404e20" points="509.37,351.96 520.97,351.96 524.99,348.92 524.99,294.68 513.39,294.68 509.37,297.72"/><polygon fill="#4a5b25" points="509.37,297.72 520.97,297.72 524.99,294.68 513.39,294.68"/><polygon fill="#5F7530" points="509.37,351.96 520.97,351.96 520.97,297.72 509.37,297.72"/><polygon fill="#404e20" points="538.63,351.96 550.23,351.96 554.24,348.92 554.24,297.49 542.64,297.49 538.63,300.53"/><polygon fill="#4a5b25" points="538.63,300.53 550.23,300.53 554.24,297.49 542.64,297.49"/><polygon fill="#5F7530" points="538.63,351.96 550.23,351.96 550.23,300.53 538.63,300.53"/><polygon fill="#342842" points="119.03,359.48 130.63,359.48 134.65,356.44 134.65,273.15 123.05,273.15 119.03,276.19"/><polygon fill="#3c2e4c" points="119.03,276.19 130.63,276.19 134.65,273.15 123.05,273.15"/><polygon fill="#4D3B62" points="119.03,359.48 130.63,359.48 130.63,276.19 119.03,276.19"/><polygon fill="#342842" points="148.29,359.48 159.89,359.48 163.91,356.44 163.91,274.34 152.31,274.34 148.29,277.38"/><polygon fill="#3c2e4c" points="148.29,277.38 159.89,277.38 163.91,274.34 152.31,274.34"/><polygon fill="#4D3B62" points="148.29,359.48 159.89,359.48 159.89,277.38 148.29,277.38"/><polygon fill="#342842" points="177.55,359.48 189.15,359.48 193.17,356.44 193.17,275.31 181.57,275.31 177.55,278.36"/><polygon fill="#3c2e4c" points="177.55,278.36 189.15,278.36 193.17,275.31 181.57,275.31"/><polygon fill="#4D3B62" points="177.55,359.48 189.15,359.48 189.15,278.36 177.55,278.36"/><polygon fill="#342842" points="206.81,359.48 218.41,359.48 222.43,356.44 222.43,276.81 210.83,276.81 206.81,279.85"/><polygon fill="#3c2e4c" points="206.81,279.85 218.41,279.85 222.43,276.81 210.83,276.81"/><polygon fill="#4D3B62" points="206.81,359.48 218.41,359.48 218.41,279.85 206.81,279.85"/><polygon fill="#342842" points="236.07,359.48 247.67,359.48 251.69,356.44 251.69,283.58 240.09,283.58 236.07,286.62"/><polygon fill="#3c2e4c" points="236.07,286.62 247.67,286.62 251.69,283.58 240.09,283.58"/><polygon fill="#4D3B62" points="236.07,359.48 247.67,359.48 247.67,286.62 236.07,286.62"/><polygon fill="#342842" points="265.33,359.48 276.93,359.48 280.94,356.44 280.94,284.71 269.34,284.71 265.33,287.75"/><polygon fill="#3c2e4c" points="265.33,287.75 276.93,287.75 280.94,284.71 269.34,284.71"/><polygon fill="#4D3B62" points="265.33,359.48 276.93,359.48 276.93,287.75 265.33,287.75"/><polygon fill="#342842" points="294.59,359.48 306.19,359.48 310.20,356.44 310.20,288.32 298.60,288.32 294.59,291.36"/><polygon fill="#3c2e4c" points="294.59,291.36 306.19,291.36 310.20,288.32 298.60,288.32"/><polygon fill="#4D3B62" points="294.59,359.48 306.19,359.48 306.19,291.36 294.59,291.36"/><polygon fill="#342842" points="323.84,359.48 335.44,359.48 339.46,356.44 339.46,289.07 327.86,289.07 323.84,292.12"/><polygon fill="#3c2e4c" points="323.84,292.12 335.44,292.12 339.46,289.07 327.86,289.07"/><polygon fill="#4D3B62" points="323.84,359.48 335.44,359.48 335.44,292.12 323.84,292.12"/><polygon fill="#342842" points="353.10,359.48 364.70,359.48 368.72,356.44 368.72,291.97 357.12,291.97 353.10,295.01"/><polygon fill="#3c2e4c" points="353.10,295.01 364.70,295.01 368.72,291.97 357.12,291.97"/><polygon fill="#4D3B62" points="353.10,359.48 364.70,359.48 364.70,295.01 353.10,295.01"/><polygon fill="#342842" points="382.36,359.48 393.96,359.48 397.98,356.44 397.98,294.17 386.38,294.17 382.36,297.21"/><polygon fill="#3c2e4c" points="382.36,297.21 393.96,297.21 397.98,294.17 386.38,294.17"/><polygon fill="#4D3B62" points="382.36,359.48 393.96,359.48 393.96,297.21 382.36,297.21"/><polygon fill="#342842" points="411.62,359.48 423.22,359.48 427.24,356.44 427.24,294.39 415.64,294.39 411.62,297.44"/><polygon fill="#3c2e4c" points="411.62,297.44 423.22,297.44 427.24,294.39 415.64,294.39"/><polygon fill="#4D3B62" points="411.62,359.48 423.22,359.48 423.22,297.44 411.62,297.44"/><polygon fill="#342842" points="440.88,359.48 452.48,359.48 456.50,356.44 456.50,294.74 444.90,294.74 440.88,297.78"/><polygon fill="#3c2e4c" points="440.88,297.78 452.48,297.78 456.50,294.74 444.90,294.74"/><polygon fill="#4D3B62" points="440.88,359.48 452.48,359.48 452.48,297.78 440.88,297.78"/><polygon fill="#342842" points="470.14,359.48 481.74,359.48 485.75,356.44 485.75,295.45 474.15,295.45 470.14,298.49"/><polygon fill="#3c2e4c" points="470.14,298.49 481.74,298.49 485.75,295.45 474.15,295.45"/><polygon fill="#4D3B62" points="470.14,359.48 481.74,359.48 481.74,298.49 470.14,298.49"/><polygon fill="#342842" points="499.40,359.48 511.00,359.48 515.01,356.44 515.01,303.29 503.41,303.29 499.40,306.34"/><polygon fill="#3c2e4c" points="499.40,306.34 511.00,306.34 515.01,303.29 503.41,303.29"/><polygon fill="#4D3B62" points="499.40,359.48 511.00,359.48 511.00,306.34 499.40,306.34"/><polygon fill="#342842" points="528.65,359.48 540.25,359.48 544.27,356.44 544.27,306.05 532.67,306.05 528.65,309.09"/><polygon fill="#3c2e4c" points="528.65,309.09 540.25,309.09 544.27,306.05 532.67,306.05"/><polygon fill="#4D3B62" points="528.65,359.48 540.25,359.48 540.25,309.09 528.65,309.09"/><polygon fill="#1a4753" points="109.03,367.01 120.63,367.01 124.65,363.97 124.65,286.38 113.05,286.38 109.03,289.42"/><polygon fill="#1e5361" points="109.03,289.42 120.63,289.42 124.65,286.38 113.05,286.38"/><polygon fill="#276A7C" points="109.03,367.01 120.63,367.01 120.63,289.42 109.03,289.42"/><polygon fill="#1a4753" points="138.29,367.01 149.89,367.01 153.91,363.97 153.91,287.49 142.31,287.49 138.29,290.53"/><polygon fill="#1e5361" points="138.29,290.53 149.89,290.53 153.91,287.49 142.31,287.49"/><polygon fill="#276A7C" points="138.29,367.01 149.89,367.01 149.89,290.53 138.29,290.53"/><polygon fill="#1a4753" points="167.55,367.01 179.15,367.01 183.17,363.97 183.17,288.39 171.57,288.39 167.55,291.44"/><polygon fill="#1e5361" points="167.55,291.44 179.15,291.44 183.17,288.39 171.57,288.39"/><polygon fill="#276A7C" points="167.55,367.01 179.15,367.01 179.15,291.44 167.55,291.44"/><polygon fill="#1a4753" points="196.81,367.01 208.41,367.01 212.43,363.97 212.43,289.79 200.83,289.79 196.81,292.83"/><polygon fill="#1e5361" points="196.81,292.83 208.41,292.83 212.43,289.79 200.83,289.79"/><polygon fill="#276A7C" points="196.81,367.01 208.41,367.01 208.41,292.83 196.81,292.83"/><polygon fill="#1a4753" points="226.07,367.01 237.67,367.01 241.69,363.97 241.69,296.13 230.09,296.13 226.07,299.18"/><polygon fill="#1e5361" points="226.07,299.18 237.67,299.18 241.69,296.13 230.09,296.13"/><polygon fill="#276A7C" points="226.07,367.01 237.67,367.01 237.67,299.18 226.07,299.18"/><polygon fill="#1a4753" points="255.33,367.01 266.93,367.01 270.95,363.97 270.95,297.19 259.35,297.19 255.33,300.23"/><polygon fill="#1e5361" points="255.33,300.23 266.93,300.23 270.95,297.19 259.35,297.19"/><polygon fill="#276A7C" points="255.33,367.01 266.93,367.01 266.93,300.23 255.33,300.23"/><polygon fill="#1a4753" points="284.59,367.01 296.19,367.01 300.21,363.97 300.21,300.55 288.61,300.55 284.59,303.59"/><polygon fill="#1e5361" points="284.59,303.59 296.19,303.59 300.21,300.55 288.61,300.55"/><polygon fill="#276A7C" points="284.59,367.01 296.19,367.01 296.19,303.59 284.59,303.59"/><polygon fill="#1a4753" points="313.86,367.01 325.46,367.01 329.47,363.97 329.47,301.25 317.87,301.25 313.86,304.30"/><polygon fill="#1e5361" points="313.86,304.30 325.46,304.30 329.47,301.25 317.87,301.25"/><polygon fill="#276A7C" points="313.86,367.01 325.46,367.01 325.46,304.30 313.86,304.30"/><polygon fill="#1a4753" points="343.12,367.01 354.72,367.01 358.73,363.97 358.73,303.95 347.13,303.95 343.12,306.99"/><polygon fill="#1e5361" points="343.12,306.99 354.72,306.99 358.73,303.95 347.13,303.95"/><polygon fill="#276A7C" points="343.12,367.01 354.72,367.01 354.72,306.99 343.12,306.99"/><polygon fill="#1a4753" points="372.38,367.01 383.98,367.01 387.99,363.97 387.99,306.00 376.39,306.00 372.38,309.05"/><polygon fill="#1e5361" points="372.38,309.05 383.98,309.05 387.99,306.00 376.39,306.00"/><polygon fill="#276A7C" points="372.38,367.01 383.98,367.01 383.98,309.05 372.38,309.05"/><polygon fill="#1a4753" points="401.64,367.01 413.24,367.01 417.26,363.97 417.26,306.21 405.66,306.21 401.64,309.25"/><polygon fill="#1e5361" points="401.64,309.25 413.24,309.25 417.26,306.21 405.66,306.21"/><polygon fill="#276A7C" points="401.64,367.01 413.24,367.01 413.24,309.25 401.64,309.25"/><polygon fill="#1a4753" points="430.90,367.01 442.50,367.01 446.52,363.97 446.52,306.54 434.92,306.54 430.90,309.58"/><polygon fill="#1e5361" points="430.90,309.58 442.50,309.58 446.52,306.54 434.92,306.54"/><polygon fill="#276A7C" points="430.90,367.01 442.50,367.01 442.50,309.58 430.90,309.58"/><polygon fill="#1a4753" points="460.16,367.01 471.76,367.01 475.78,363.97 475.78,307.20 464.18,307.20 460.16,310.24"/><polygon fill="#1e5361" points="460.16,310.24 471.76,310.24 475.78,307.20 464.18,307.20"/><polygon fill="#276A7C" points="460.16,367.01 471.76,367.01 471.76,310.24 460.16,310.24"/><polygon fill="#1a4753" points="489.42,367.01 501.02,367.01 505.04,363.97 505.04,314.51 493.44,314.51 489.42,317.55"/><polygon fill="#1e5361" points="489.42,317.55 501.02,317.55 505.04,314.51 493.44,314.51"/><polygon fill="#276A7C" points="489.42,367.01 501.02,367.01 501.02,317.55 489.42,317.55"/><polygon fill="#1a4753" points="518.68,367.01 530.28,367.01 534.30,363.97 534.30,317.08 522.70,317.08 518.68,320.12"/><polygon fill="#1e5361" points="518.68,320.12 530.28,320.12 534.30,317.08 522.70,317.08"/><polygon fill="#276A7C" points="518.68,367.01 530.28,367.01 530.28,320.12 518.68,320.12"/><polygon fill="#7a3a05" points="99.02,374.54 110.62,374.54 114.64,371.50 114.64,294.25 103.04,294.25 99.02,297.29"/><polygon fill="#8e4406" points="99.02,297.29 110.62,297.29 114.64,294.25 103.04,294.25"/><polygon fill="#B65708" points="99.02,374.54 110.62,374.54 110.62,297.29 99.02,297.29"/><polygon fill="#7a3a05" points="128.28,374.54 139.88,374.54 143.90,371.50 143.90,295.35 132.30,295.35 128.28,298.39"/><polygon fill="#8e4406" points="128.28,298.39 139.88,298.39 143.90,295.35 132.30,295.35"/><polygon fill="#B65708" points="128.28,374.54 139.88,374.54 139.88,298.39 128.28,298.39"/><polygon fill="#7a3a05" points="157.55,374.54 169.15,374.54 173.17,371.50 173.17,296.25 161.57,296.25 157.55,299.30"/><polygon fill="#8e4406" points="157.55,299.30 169.15,299.30 173.17,296.25 161.57,296.25"/><polygon fill="#B65708" points="157.55,374.54 169.15,374.54 169.15,299.30 157.55,299.30"/><polygon fill="#7a3a05" points="186.81,374.54 198.41,374.54 202.43,371.50 202.43,297.64 190.83,297.64 186.81,300.69"/><polygon fill="#8e4406" points="186.81,300.69 198.41,300.69 202.43,297.64 190.83,297.64"/><polygon fill="#B65708" points="186.81,374.54 198.41,374.54 198.41,300.69 186.81,300.69"/><polygon fill="#7a3a05" points="216.07,374.54 227.67,374.54 231.69,371.50 231.69,303.97 220.09,303.97 216.07,307.01"/><polygon fill="#8e4406" points="216.07,307.01 227.67,307.01 231.69,303.97 220.09,303.97"/><polygon fill="#B65708" points="216.07,374.54 227.67,374.54 227.67,307.01 216.07,307.01"/><polygon fill="#7a3a05" points="245.34,374.54 256.94,374.54 260.96,371.50 260.96,305.02 249.36,305.02 245.34,308.06"/><polygon fill="#8e4406" points="245.34,308.06 256.94,308.06 260.96,305.02 249.36,305.02"/><polygon fill="#B65708" points="245.34,374.54 256.94,374.54 256.94,308.06 245.34,308.06"/><polygon fill="#7a3a05" points="274.60,374.54 286.20,374.54 290.22,371.50 290.22,308.37 278.62,308.37 274.60,311.41"/><polygon fill="#8e4406" points="274.60,311.41 286.20,311.41 290.22,308.37 278.62,308.37"/><polygon fill="#B65708" points="274.60,374.54 286.20,374.54 286.20,311.41 274.60,311.41"/><polygon fill="#7a3a05" points="303.87,374.54 315.47,374.54 319.48,371.50 319.48,309.07 307.88,309.07 303.87,312.11"/><polygon fill="#8e4406" points="303.87,312.11 315.47,312.11 319.48,309.07 307.88,309.07"/><polygon fill="#B65708" points="303.87,374.54 315.47,374.54 315.47,312.11 303.87,312.11"/><polygon fill="#7a3a05" points="333.13,374.54 344.73,374.54 348.75,371.50 348.75,311.76 337.15,311.76 333.13,314.80"/><polygon fill="#8e4406" points="333.13,314.80 344.73,314.80 348.75,311.76 337.15,311.76"/><polygon fill="#B65708" points="333.13,374.54 344.73,374.54 344.73,314.80 333.13,314.80"/><polygon fill="#7a3a05" points="362.39,374.54 373.99,374.54 378.01,371.50 378.01,313.80 366.41,313.80 362.39,316.84"/><polygon fill="#8e4406" points="362.39,316.84 373.99,316.84 378.01,313.80 366.41,313.80"/><polygon fill="#B65708" points="362.39,374.54 373.99,374.54 373.99,316.84 362.39,316.84"/><polygon fill="#7a3a05" points="391.66,374.54 403.26,374.54 407.27,371.50 407.27,314.01 395.67,314.01 391.66,317.05"/><polygon fill="#8e4406" points="391.66,317.05 403.26,317.05 407.27,314.01 395.67,314.01"/><polygon fill="#B65708" points="391.66,374.54 403.26,374.54 403.26,317.05 391.66,317.05"/><polygon fill="#7a3a05" points="420.92,374.54 432.52,374.54 436.54,371.50 436.54,314.33 424.94,314.33 420.92,317.38"/><polygon fill="#8e4406" points="420.92,317.38 432.52,317.38 436.54,314.33 424.94,314.33"/><polygon fill="#B65708" points="420.92,374.54 432.52,374.54 432.52,317.38 420.92,317.38"/><polygon fill="#7a3a05" points="450.18,374.54 461.78,374.54 465.80,371.50 465.80,314.99 454.20,314.99 450.18,318.03"/><polygon fill="#8e4406" points="450.18,318.03 461.78,318.03 465.80,314.99 454.20,314.99"/><polygon fill="#B65708" points="450.18,374.54 461.78,374.54 461.78,318.03 450.18,318.03"/><polygon fill="#7a3a05" points="479.45,374.54 491.05,374.54 495.06,371.50 495.06,322.28 483.46,322.28 479.45,325.32"/><polygon fill="#8e4406" points="479.45,325.32 491.05,325.32 495.06,322.28 483.46,322.28"/><polygon fill="#B65708" points="479.45,374.54 491.05,374.54 491.05,325.32 479.45,325.32"/><polygon fill="#7a3a05" points="508.71,374.54 520.31,374.54 524.33,371.50 524.33,324.84 512.73,324.84 508.71,327.88"/><polygon fill="#8e4406" points="508.71,327.88 520.31,327.88 524.33,324.84 512.73,324.84"/><polygon fill="#B65708" points="508.71,374.54 520.31,374.54 520.31,327.88 508.71,327.88"/><polygon fill="#4c6787" points="89.01,382.06 100.61,382.06 104.63,379.02 104.63,303.34 93.03,303.34 89.01,306.38"/><polygon fill="#59789e" points="89.01,306.38 100.61,306.38 104.63,303.34 93.03,303.34"/><polygon fill="#729ACA" points="89.01,382.06 100.61,382.06 100.61,306.38 89.01,306.38"/><polygon fill="#4c6787" points="118.28,382.06 129.88,382.06 133.90,379.02 133.90,304.42 122.30,304.42 118.28,307.46"/><polygon fill="#59789e" points="118.28,307.46 129.88,307.46 133.90,304.42 122.30,304.42"/><polygon fill="#729ACA" points="118.28,382.06 129.88,382.06 129.88,307.46 118.28,307.46"/><polygon fill="#4c6787" points="147.55,382.06 159.15,382.06 163.16,379.02 163.16,305.31 151.56,305.31 147.55,308.35"/><polygon fill="#59789e" points="147.55,308.35 159.15,308.35 163.16,305.31 151.56,305.31"/><polygon fill="#729ACA" points="147.55,382.06 159.15,382.06 159.15,308.35 147.55,308.35"/><polygon fill="#4c6787" points="176.81,382.06 188.41,382.06 192.43,379.02 192.43,306.67 180.83,306.67 176.81,309.71"/><polygon fill="#59789e" points="176.81,309.71 188.41,309.71 192.43,306.67 180.83,306.67"/><polygon fill="#729ACA" points="176.81,382.06 188.41,382.06 188.41,309.71 176.81,309.71"/><polygon fill="#4c6787" points="206.08,382.06 217.68,382.06 221.70,379.02 221.70,312.88 210.10,312.88 206.08,315.92"/><polygon fill="#59789e" points="206.08,315.92 217.68,315.92 221.70,312.88 210.10,312.88"/><polygon fill="#729ACA" points="206.08,382.06 217.68,382.06 217.68,315.92 206.08,315.92"/><polygon fill="#4c6787" points="235.34,382.06 246.94,382.06 250.96,379.02 250.96,313.91 239.36,313.91 235.34,316.95"/><polygon fill="#59789e" points="235.34,316.95 246.94,316.95 250.96,313.91 239.36,313.91"/><polygon fill="#729ACA" points="235.34,382.06 246.94,382.06 246.94,316.95 235.34,316.95"/><polygon fill="#4c6787" points="264.61,382.06 276.21,382.06 280.23,379.02 280.23,317.19 268.63,317.19 264.61,320.24"/><polygon fill="#59789e" points="264.61,320.24 276.21,320.24 280.23,317.19 268.63,317.19"/><polygon fill="#729ACA" points="264.61,382.06 276.21,382.06 276.21,320.24 264.61,320.24"/><polygon fill="#4c6787" points="293.88,382.06 305.48,382.06 309.49,379.02 309.49,317.88 297.89,317.88 293.88,320.93"/><polygon fill="#59789e" points="293.88,320.93 305.48,320.93 309.49,317.88 297.89,317.88"/><polygon fill="#729ACA" points="293.88,382.06 305.48,382.06 305.48,320.93 293.88,320.93"/><polygon fill="#4c6787" points="323.14,382.06 334.74,382.06 338.76,379.02 338.76,320.52 327.16,320.52 323.14,323.56"/><polygon fill="#59789e" points="323.14,323.56 334.74,323.56 338.76,320.52 327.16,320.52"/><polygon fill="#729ACA" points="323.14,382.06 334.74,382.06 334.74,323.56 323.14,323.56"/><polygon fill="#4c6787" points="352.41,382.06 364.01,382.06 368.03,379.02 368.03,322.52 356.43,322.52 352.41,325.56"/><polygon fill="#59789e" points="352.41,325.56 364.01,325.56 368.03,322.52 356.43,322.52"/><polygon fill="#729ACA" points="352.41,382.06 364.01,382.06 364.01,325.56 352.41,325.56"/><polygon fill="#4c6787" points="381.67,382.06 393.27,382.06 397.29,379.02 397.29,322.73 385.69,322.73 381.67,325.77"/><polygon fill="#59789e" points="381.67,325.77 393.27,325.77 397.29,322.73 385.69,322.73"/><polygon fill="#729ACA" points="381.67,382.06 393.27,382.06 393.27,325.77 381.67,325.77"/><polygon fill="#4c6787" points="410.94,382.06 422.54,382.06 426.56,379.02 426.56,323.04 414.96,323.04 410.94,326.09"/><polygon fill="#59789e" points="410.94,326.09 422.54,326.09 426.56,323.04 414.96,323.04"/><polygon fill="#729ACA" points="410.94,382.06 422.54,382.06 422.54,326.09 410.94,326.09"/><polygon fill="#4c6787" points="440.21,382.06 451.81,382.06 455.82,379.02 455.82,323.69 444.22,323.69 440.21,326.73"/><polygon fill="#59789e" points="440.21,326.73 451.81,326.73 455.82,323.69 444.22,323.69"/><polygon fill="#729ACA" points="440.21,382.06 451.81,382.06 451.81,326.73 440.21,326.73"/><polygon fill="#4c6787" points="469.47,382.06 481.07,382.06 485.09,379.02 485.09,330.83 473.49,330.83 469.47,333.87"/><polygon fill="#59789e" points="469.47,333.87 481.07,333.87 485.09,330.83 473.49,330.83"/><polygon fill="#729ACA" points="469.47,382.06 481.07,382.06 481.07,333.87 469.47,333.87"/><polygon fill="#4c6787" points="498.74,382.06 510.34,382.06 514.36,379.02 514.36,333.34 502.76,333.34 498.74,336.38"/><polygon fill="#59789e" points="498.74,336.38 510.34,336.38 514.36,333.34 502.76,333.34"/><polygon fill="#729ACA" points="498.74,382.06 510.34,382.06 510.34,336.38 498.74,336.38"/><polygon fill="#894d4c" points="79.01,389.59 90.61,389.59 94.62,386.55 94.62,311.02 83.02,311.02 79.01,314.06"/><polygon fill="#a05a58" points="79.01,314.06 90.61,314.06 94.62,311.02 83.02,311.02"/><polygon fill="#CD7371" points="79.01,389.59 90.61,389.59 90.61,314.06 79.01,314.06"/><polygon fill="#894d4c" points="108.28,389.59 119.88,389.59 123.89,386.55 123.89,312.10 112.29,312.10 108.28,315.14"/><polygon fill="#a05a58" points="108.28,315.14 119.88,315.14 123.89,312.10 112.29,312.10"/><polygon fill="#CD7371" points="108.28,389.59 119.88,389.59 119.88,315.14 108.28,315.14"/><polygon fill="#894d4c" points="137.54,389.59 149.14,389.59 153.16,386.55 153.16,312.98 141.56,312.98 137.54,316.03"/><polygon fill="#a05a58" points="137.54,316.03 149.14,316.03 153.16,312.98 141.56,312.98"/><polygon fill="#CD7371" points="137.54,389.59 149.14,389.59 149.14,316.03 137.54,316.03"/><polygon fill="#894d4c" points="166.81,389.59 178.41,389.59 182.43,386.55 182.43,314.34 170.83,314.34 166.81,317.39"/><polygon fill="#a05a58" points="166.81,317.39 178.41,317.39 182.43,314.34 170.83,314.34"/><polygon fill="#CD7371" points="166.81,389.59 178.41,389.59 178.41,317.39 166.81,317.39"/><polygon fill="#894d4c" points="196.08,389.59 207.68,389.59 211.70,386.55 211.70,320.55 200.10,320.55 196.08,323.59"/><polygon fill="#a05a58" points="196.08,323.59 207.68,323.59 211.70,320.55 200.10,320.55"/><polygon fill="#CD7371" points="196.08,389.59 207.68,389.59 207.68,323.59 196.08,323.59"/><polygon fill="#894d4c" points="225.35,389.59 236.95,389.59 240.97,386.55 240.97,321.58 229.37,321.58 225.35,324.62"/><polygon fill="#a05a58" points="225.35,324.62 236.95,324.62 240.97,321.58 229.37,321.58"/><polygon fill="#CD7371" points="225.35,389.59 236.95,389.59 236.95,324.62 225.35,324.62"/><polygon fill="#894d4c" points="254.62,389.59 266.22,389.59 270.24,386.55 270.24,324.86 258.64,324.86 254.62,327.90"/><polygon fill="#a05a58" points="254.62,327.90 266.22,327.90 270.24,324.86 258.64,324.86"/><polygon fill="#CD7371" points="254.62,389.59 266.22,389.59 266.22,327.90 254.62,327.90"/><polygon fill="#894d4c" points="283.89,389.59 295.49,389.59 299.50,386.55 299.50,325.55 287.90,325.55 283.89,328.59"/><polygon fill="#a05a58" points="283.89,328.59 295.49,328.59 299.50,325.55 287.90,325.55"/><polygon fill="#CD7371" points="283.89,389.59 295.49,389.59 295.49,328.59 283.89,328.59"/><polygon fill="#894d4c" points="313.16,389.59 324.76,389.59 328.77,386.55 328.77,328.18 317.17,328.18 313.16,331.22"/><polygon fill="#a05a58" points="313.16,331.22 324.76,331.22 328.77,328.18 317.17,328.18"/><polygon fill="#CD7371" points="313.16,389.59 324.76,389.59 324.76,331.22 313.16,331.22"/><polygon fill="#894d4c" points="342.42,389.59 354.02,389.59 358.04,386.55 358.04,330.18 346.44,330.18 342.42,333.22"/><polygon fill="#a05a58" points="342.42,333.22 354.02,333.22 358.04,330.18 346.44,330.18"/><polygon fill="#CD7371" points="342.42,389.59 354.02,389.59 354.02,333.22 342.42,333.22"/><polygon fill="#894d4c" points="371.69,389.59 383.29,389.59 387.31,386.55 387.31,330.38 375.71,330.38 371.69,333.43"/><polygon fill="#a05a58" points="371.69,333.43 383.29,333.43 387.31,330.38 375.71,330.38"/><polygon fill="#CD7371" points="371.69,389.59 383.29,389.59 383.29,333.43 371.69,333.43"/><polygon fill="#894d4c" points="400.96,389.59 412.56,389.59 416.58,386.55 416.58,330.70 404.98,330.70 400.96,333.74"/><polygon fill="#a05a58" points="400.96,333.74 412.56,333.74 416.58,330.70 404.98,330.70"/><polygon fill="#CD7371" points="400.96,389.59 412.56,389.59 412.56,333.74 400.96,333.74"/><polygon fill="#894d4c" points="430.23,389.59 441.83,389.59 445.85,386.55 445.85,331.34 434.25,331.34 430.23,334.38"/><polygon fill="#a05a58" points="430.23,334.38 441.83,334.38 445.85,331.34 434.25,331.34"/><polygon fill="#CD7371" points="430.23,389.59 441.83,389.59 441.83,334.38 430.23,334.38"/><polygon fill="#894d4c" points="459.50,389.59 471.10,389.59 475.11,386.55 475.11,338.48 463.51,338.48 459.50,341.52"/><polygon fill="#a05a58" points="459.50,341.52 471.10,341.52 475.11,338.48 463.51,338.48"/><polygon fill="#CD7371" points="459.50,389.59 471.10,389.59 471.10,341.52 459.50,341.52"/><polygon fill="#894d4c" points="488.77,389.59 500.37,389.59 504.38,386.55 504.38,340.99 492.78,340.99 488.77,344.03"/><polygon fill="#a05a58" points="488.77,344.03 500.37,344.03 504.38,340.99 492.78,340.99"/><polygon fill="#CD7371" points="488.77,389.59 500.37,389.59 500.37,344.03 488.77,344.03"/><polygon fill="#758752" points="69.00,397.12 80.60,397.12 84.62,394.08 84.62,318.89 73.02,318.89 69.00,321.93"/><polygon fill="#889d5f" points="69.00,321.93 80.60,321.93 84.62,318.89 73.02,318.89"/><polygon fill="#AFC97A" points="69.00,397.12 80.60,397.12 80.60,321.93 69.00,321.93"/><polygon fill="#758752" points="98.27,397.12 109.87,397.12 113.89,394.08 113.89,319.96 102.29,319.96 98.27,323.01"/><polygon fill="#889d5f" points="98.27,323.01 109.87,323.01 113.89,319.96 102.29,319.96"/><polygon fill="#AFC97A" points="98.27,397.12 109.87,397.12 109.87,323.01 98.27,323.01"/><polygon fill="#758752" points="127.54,397.12 139.14,397.12 143.16,394.08 143.16,320.84 131.56,320.84 127.54,323.89"/><polygon fill="#889d5f" points="127.54,323.89 139.14,323.89 143.16,320.84 131.56,320.84"/><polygon fill="#AFC97A" points="127.54,397.12 139.14,397.12 139.14,323.89 127.54,323.89"/><polygon fill="#758752" points="156.81,397.12 168.41,397.12 172.43,394.08 172.43,322.20 160.83,322.20 156.81,325.24"/><polygon fill="#889d5f" points="156.81,325.24 168.41,325.24 172.43,322.20 160.83,322.20"/><polygon fill="#AFC97A" points="156.81,397.12 168.41,397.12 168.41,325.24 156.81,325.24"/><polygon fill="#758752" points="186.08,397.12 197.68,397.12 201.70,394.08 201.70,328.38 190.10,328.38 186.08,331.43"/><polygon fill="#889d5f" points="186.08,331.43 197.68,331.43 201.70,328.38 190.10,328.38"/><polygon fill="#AFC97A" points="186.08,397.12 197.68,397.12 197.68,331.43 186.08,331.43"/><polygon fill="#758752" points="215.36,397.12 226.96,397.12 230.97,394.08 230.97,329.41 219.37,329.41 215.36,332.45"/><polygon fill="#889d5f" points="215.36,332.45 226.96,332.45 230.97,329.41 219.37,329.41"/><polygon fill="#AFC97A" points="215.36,397.12 226.96,397.12 226.96,332.45 215.36,332.45"/><polygon fill="#758752" points="244.63,397.12 256.23,397.12 260.24,394.08 260.24,332.68 248.64,332.68 244.63,335.72"/><polygon fill="#889d5f" points="244.63,335.72 256.23,335.72 260.24,332.68 248.64,332.68"/><polygon fill="#AFC97A" points="244.63,397.12 256.23,397.12 256.23,335.72 244.63,335.72"/><polygon fill="#758752" points="273.90,397.12 285.50,397.12 289.51,394.08 289.51,333.36 277.91,333.36 273.90,336.40"/><polygon fill="#889d5f" points="273.90,336.40 285.50,336.40 289.51,333.36 277.91,333.36"/><polygon fill="#AFC97A" points="273.90,397.12 285.50,397.12 285.50,336.40 273.90,336.40"/><polygon fill="#758752" points="303.17,397.12 314.77,397.12 318.79,394.08 318.79,335.98 307.19,335.98 303.17,339.02"/><polygon fill="#889d5f" points="303.17,339.02 314.77,339.02 318.79,335.98 307.19,335.98"/><polygon fill="#AFC97A" points="303.17,397.12 314.77,397.12 314.77,339.02 303.17,339.02"/><polygon fill="#758752" points="332.44,397.12 344.04,397.12 348.06,394.08 348.06,337.98 336.46,337.98 332.44,341.02"/><polygon fill="#889d5f" points="332.44,341.02 344.04,341.02 348.06,337.98 336.46,337.98"/><polygon fill="#AFC97A" points="332.44,397.12 344.04,397.12 344.04,341.02 332.44,341.02"/><polygon fill="#758752" points="361.71,397.12 373.31,397.12 377.33,394.08 377.33,338.18 365.73,338.18 361.71,341.22"/><polygon fill="#889d5f" points="361.71,341.22 373.31,341.22 377.33,338.18 365.73,338.18"/><polygon fill="#AFC97A" points="361.71,397.12 373.31,397.12 373.31,341.22 361.71,341.22"/><polygon fill="#758752" points="390.98,397.12 402.58,397.12 406.60,394.08 406.60,338.50 395.00,338.50 390.98,341.54"/><polygon fill="#889d5f" points="390.98,341.54 402.58,341.54 406.60,338.50 395.00,338.50"/><polygon fill="#AFC97A" points="390.98,397.12 402.58,397.12 402.58,341.54 390.98,341.54"/><polygon fill="#758752" points="420.25,397.12 431.85,397.12 435.87,394.08 435.87,339.14 424.27,339.14 420.25,342.18"/><polygon fill="#889d5f" points="420.25,342.18 431.85,342.18 435.87,339.14 424.27,339.14"/><polygon fill="#AFC97A" points="420.25,397.12 431.85,397.12 431.85,342.18 420.25,342.18"/><polygon fill="#758752" points="449.52,397.12 461.12,397.12 465.14,394.08 465.14,346.24 453.54,346.24 449.52,349.29"/><polygon fill="#889d5f" points="449.52,349.29 461.12,349.29 465.14,346.24 453.54,346.24"/><polygon fill="#AFC97A" points="449.52,397.12 461.12,397.12 461.12,349.29 449.52,349.29"/><polygon fill="#758752" points="478.79,397.12 490.39,397.12 494.41,394.08 494.41,348.74 482.81,348.74 478.79,351.79"/><polygon fill="#889d5f" points="478.79,351.79 490.39,351.79 494.41,348.74 482.81,348.74"/><polygon fill="#AFC97A" points="478.79,397.12 490.39,397.12 490.39,351.79 478.79,351.79"/></g><g font-family="Liberation Serif, serif" fill="#595959"><text x="44.2" y="404.20" text-anchor="end" font-size="15.3">0.000</text><text x="44.2" y="357.30" text-anchor="end" font-size="15.3">0.050</text><text x="44.2" y="310.40" text-anchor="end" font-size="15.3">0.100</text><text x="44.2" y="263.50" text-anchor="end" font-size="15.3">0.150</text><text x="44.2" y="216.60" text-anchor="end" font-size="15.3">0.200</text><text x="44.2" y="169.70" text-anchor="end" font-size="15.3">0.250</text><text x="44.2" y="122.80" text-anchor="end" font-size="15.3">0.300</text><text x="71.71" y="416.8" text-anchor="middle" font-size="11.5">5</text><text x="100.93" y="416.8" text-anchor="middle" font-size="11.5">4</text><text x="130.14" y="416.8" text-anchor="middle" font-size="11.5">8</text><text x="159.36" y="416.8" text-anchor="middle" font-size="11.5">3</text><text x="188.58" y="416.8" text-anchor="middle" font-size="11.5">7</text><text x="217.79" y="416.8" text-anchor="middle" font-size="11.5">6</text><text x="247.01" y="416.8" text-anchor="middle" font-size="11.5">15</text><text x="276.23" y="416.8" text-anchor="middle" font-size="11.5">2</text><text x="305.44" y="416.8" text-anchor="middle" font-size="11.5">1</text><text x="334.66" y="416.8" text-anchor="middle" font-size="11.5">9</text><text x="363.88" y="416.8" text-anchor="middle" font-size="11.5">10</text><text x="393.10" y="416.8" text-anchor="middle" font-size="11.5">14</text><text x="422.31" y="416.8" text-anchor="middle" font-size="11.5">12</text><text x="451.53" y="416.8" text-anchor="middle" font-size="11.5">13</text><text x="480.75" y="416.8" text-anchor="middle" font-size="11.5">11</text><text x="512.90" y="399.40" font-size="12">13</text><text x="523.30" y="392.40" font-size="12">12</text><text x="532.30" y="385.00" font-size="12">11</text><text x="543.50" y="377.80" font-size="12">8</text><text x="553.10" y="369.40" font-size="12">10</text><text x="563.50" y="361.20" font-size="12">14</text><text x="572.70" y="354.60" font-size="12">6</text><text x="582.90" y="346.80" font-size="12">2</text><text x="593.70" y="339.60" font-size="12">4</text><text x="603.10" y="331.00" font-size="12">15</text><text x="613.10" y="323.80" font-size="12">1</text><text x="623.30" y="316.60" font-size="12">9</text><text x="633.30" y="309.20" font-size="12">7</text><text x="642.90" y="301.60" font-size="12">3</text><text x="649.90" y="293.00" font-size="12">5</text><text x="173.5" y="438.3" font-size="15.1">Row hierarchy of forward linkage</text><text transform="translate(672.8,393.0) rotate(-90)" x="0" y="0" font-size="15">Column hierarchy of backward linkage</text></g><g fill="#000"><rect x="0" y="0" width="685" height="1.5"/><rect x="0" y="0" width="1.7" height="425"/><rect x="683.8" y="0" width="1.2" height="425"/><rect x="0" y="423" width="685" height="2"/></g></svg></body></html>
